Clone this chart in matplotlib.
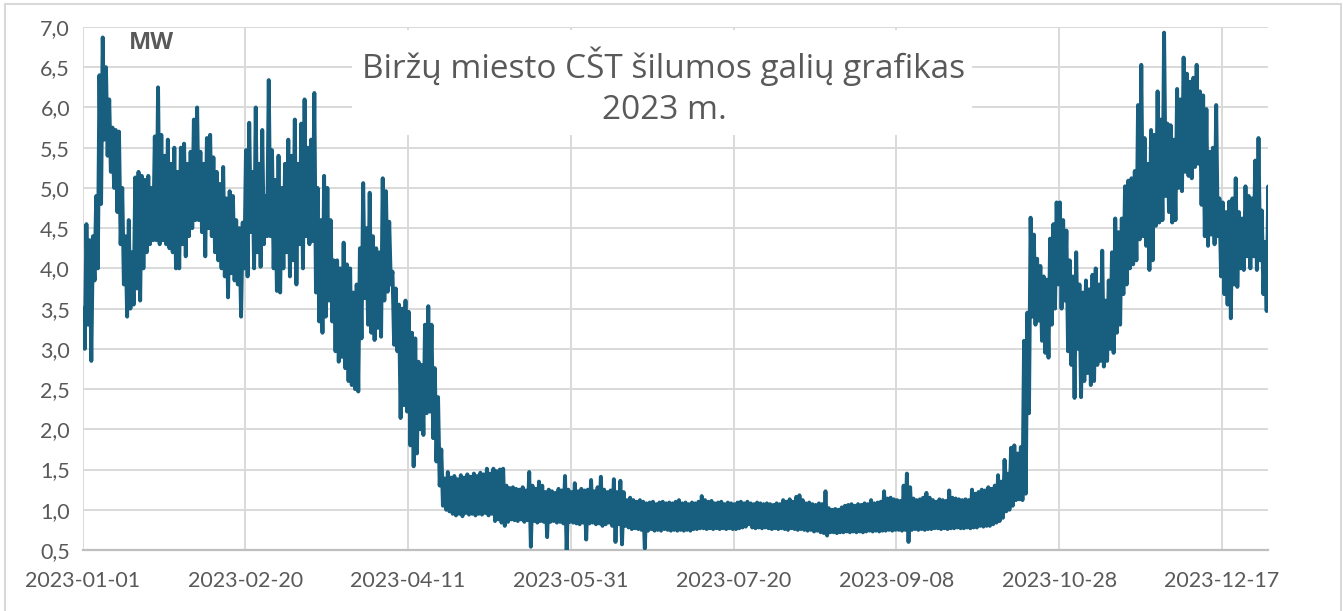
import matplotlib
matplotlib.use("Agg")
import matplotlib.pyplot as plt
import matplotlib.dates as mdates
from matplotlib.patches import Rectangle
import pandas as pd

# daily maximum / minimum heat power, MW (2023-01-01 .. 2023-12-31)
daily_high = [
    3.5, 4.55, 4.35, 4.4, 4.9, 6.4, 6.87, 6.5, 6.1, 5.75,
    5.72, 5.7, 5.0, 4.4, 4.6, 4.2, 5.13, 5.2, 5.15, 5.1,
    5.15, 5.0, 5.64, 6.25, 5.66, 5.4, 5.6, 5.3, 5.5, 5.2,
    5.5, 5.55, 5.3, 5.45, 5.85, 6.0, 5.45, 5.3, 5.62, 5.66,
    5.38, 5.2, 5.05, 5.26, 4.87, 4.96, 4.9, 4.6, 4.5, 4.57,
    5.47, 5.81, 5.2, 6.0, 5.3, 5.72, 4.9, 6.34, 5.47, 5.1,
    5.4, 5.0, 5.3, 5.6, 5.4, 5.85, 5.3, 5.8, 6.1, 5.5,
    5.6, 6.18, 5.0, 4.6, 5.15, 5.0, 4.6, 4.1, 4.1, 4.0,
    4.32, 4.05, 4.0, 3.7, 3.8, 4.25, 5.06, 4.5, 4.94, 4.4,
    4.25, 4.2, 5.12, 4.96, 4.58, 3.96, 3.75, 3.55, 3.5, 3.6,
    3.46, 3.2, 3.13, 2.84, 2.8, 3.3, 3.53, 3.3, 2.76, 2.4,
    1.75, 1.39, 1.47, 1.4, 1.42, 1.38, 1.43, 1.4, 1.44, 1.41,
    1.45, 1.42, 1.46, 1.44, 1.51, 1.45, 1.51, 1.48, 1.5, 1.51,
    1.3, 1.27, 1.28, 1.26, 1.25, 1.28, 1.24, 1.47, 1.3, 1.26,
    1.35, 1.3, 1.22, 1.25, 1.23, 1.21, 1.26, 1.24, 1.42, 1.25,
    1.22, 1.33, 1.23, 1.26, 1.24, 1.25, 1.37, 1.23, 1.28, 1.41,
    1.25, 1.22, 1.24, 1.38, 1.22, 1.36, 1.22, 1.12, 1.15, 1.12,
    1.1, 1.12, 1.1, 1.08, 1.09, 1.1, 1.07, 1.09, 1.1, 1.08,
    1.09, 1.08, 1.1, 1.12, 1.08, 1.09, 1.07, 1.09, 1.08, 1.1,
    1.17, 1.12, 1.1, 1.11, 1.08, 1.09, 1.1, 1.07, 1.09, 1.08,
    1.07, 1.09, 1.1, 1.08, 1.1, 1.08, 1.07, 1.09, 1.08, 1.07,
    1.08, 1.07, 1.06, 1.08, 1.07, 1.12, 1.1, 1.13, 1.1, 1.16,
    1.18, 1.12, 1.08, 1.09, 1.07, 1.06, 1.08, 1.07, 1.23, 1.02,
    1.0, 1.01, 1.0, 1.03, 1.05, 1.06, 1.07, 1.05, 1.07, 1.06,
    1.08, 1.07, 1.12, 1.08, 1.09, 1.1, 1.23, 1.14, 1.15, 1.13,
    1.12, 1.11, 1.3, 1.45, 1.28, 1.14, 1.12, 1.13, 1.15, 1.21,
    1.15, 1.12, 1.1, 1.13, 1.12, 1.11, 1.24, 1.15, 1.14, 1.13,
    1.12, 1.13, 1.12, 1.25, 1.2, 1.22, 1.25, 1.24, 1.28, 1.26,
    1.3, 1.43, 1.35, 1.62, 1.45, 1.77, 1.8, 1.7, 1.78, 3.1,
    3.45, 4.63, 4.42, 4.12, 4.03, 3.9, 3.86, 4.37, 4.55, 4.82,
    4.82, 4.6, 4.47, 4.1, 3.9, 4.2, 3.8, 3.7, 3.85, 3.74,
    3.92, 4.0, 3.8, 4.22, 3.6, 3.85, 4.2, 4.62, 4.45, 4.62,
    5.02, 5.09, 5.12, 5.21, 6.03, 6.53, 5.62, 5.3, 5.72, 5.66,
    6.2, 5.85, 6.93, 5.8, 5.78, 5.6, 6.23, 6.1, 6.62, 6.42,
    6.32, 6.37, 6.53, 6.2, 6.15, 5.98, 5.45, 5.5, 6.03, 4.87,
    4.82, 4.7, 4.83, 4.87, 5.12, 4.7, 4.62, 5.02, 4.9, 4.87,
    5.34, 5.62, 4.72, 4.33, 5.02,
]
daily_low = [
    3.0, 3.3, 2.85, 3.85, 4.0, 4.8, 5.6, 5.4, 5.2, 5.0,
    4.7, 4.3, 3.8, 3.4, 3.5, 3.55, 3.75, 3.6, 4.0, 4.2,
    4.3, 4.35, 4.35, 4.3, 4.35, 4.3, 4.25, 4.2, 4.0, 4.0,
    4.3, 4.15, 4.4, 4.5, 4.6, 4.6, 4.45, 4.15, 4.5, 4.4,
    4.2, 4.1, 4.0, 3.9, 3.64, 3.94, 3.85, 3.8, 3.4, 4.0,
    3.9, 4.45, 4.0, 4.2, 4.02, 4.3, 4.4, 4.4, 4.0, 3.72,
    3.7, 4.0, 4.2, 3.9, 4.1, 3.8, 4.3, 4.0, 4.4, 4.3,
    4.34, 3.7, 3.34, 3.2, 3.4, 3.6, 3.34, 2.97, 2.84, 2.9,
    2.76, 2.6, 2.55, 2.5, 2.47, 3.13, 3.63, 3.3, 3.2, 3.11,
    3.26, 3.15, 3.6, 3.71, 3.8, 3.05, 2.97, 2.14, 2.3, 2.22,
    1.8, 1.54, 1.7, 2.0, 1.93, 2.2, 2.22, 1.89, 1.6, 1.3,
    1.05, 1.0, 0.98, 0.95, 0.93, 0.95, 0.92, 0.96, 0.94, 0.95,
    0.93, 0.95, 0.94, 0.96, 0.93, 0.95, 0.86, 0.88, 0.84, 0.8,
    0.85, 0.88, 0.87, 0.86, 0.88, 0.85, 0.87, 0.54, 0.86, 0.84,
    0.86, 0.85, 0.66, 0.85, 0.86, 0.84, 0.85, 0.83, 0.48, 0.85,
    0.84, 0.83, 0.82, 0.84, 0.63, 0.83, 0.84, 0.82, 0.83, 0.8,
    0.82, 0.84, 0.8, 0.6, 0.82, 0.57, 0.8, 0.78, 0.76, 0.77,
    0.76, 0.75, 0.52, 0.74, 0.76, 0.74, 0.75, 0.74, 0.76, 0.75,
    0.74, 0.75, 0.74, 0.75, 0.74, 0.75, 0.74, 0.76, 0.76, 0.77,
    0.77, 0.76, 0.77, 0.76, 0.77, 0.76, 0.77, 0.76, 0.77, 0.76,
    0.76, 0.77, 0.78, 0.79, 0.82, 0.78, 0.77, 0.78, 0.77, 0.78,
    0.77, 0.76, 0.77, 0.76, 0.77, 0.76, 0.75, 0.77, 0.76, 0.75,
    0.76, 0.75, 0.74, 0.75, 0.73, 0.74, 0.72, 0.71, 0.68, 0.72,
    0.72, 0.71, 0.72, 0.72, 0.73, 0.72, 0.73, 0.72, 0.73, 0.72,
    0.73, 0.74, 0.73, 0.74, 0.73, 0.74, 0.74, 0.75, 0.74, 0.75,
    0.75, 0.74, 0.75, 0.6, 0.75, 0.76, 0.75, 0.76, 0.75, 0.76,
    0.76, 0.77, 0.77, 0.76, 0.77, 0.76, 0.77, 0.77, 0.78, 0.77,
    0.77, 0.78, 0.77, 0.78, 0.78, 0.8, 0.79, 0.8, 0.8, 0.82,
    0.84, 0.86, 0.9, 0.98, 1.0, 1.05, 1.12, 1.13, 1.12, 1.2,
    2.2, 3.4, 3.3, 3.35, 3.1, 2.95, 2.89, 3.3, 3.5, 3.8,
    3.5, 3.6, 2.97, 2.8, 2.39, 3.0, 2.4, 2.6, 2.7, 2.55,
    2.6, 2.8, 2.85, 2.78, 2.85, 3.0, 2.95, 3.2, 3.3, 3.68,
    3.8, 4.0, 4.05, 4.1, 4.36, 4.4, 4.28, 3.98, 4.1, 4.53,
    4.57, 4.6, 4.9, 4.7, 4.57, 4.6, 5.0, 4.96, 5.2, 5.15,
    5.12, 5.26, 5.3, 4.79, 4.4, 4.28, 4.42, 4.3, 4.4, 3.9,
    3.68, 3.55, 3.38, 3.8, 3.77, 4.0, 3.98, 4.15, 4.0, 4.15,
    3.98, 4.1, 3.68, 3.47, 4.0,
]
days = pd.date_range("2023-01-01", periods=len(daily_high), freq="D")
tick_dates = pd.date_range("2023-01-01", periods=8, freq="50D")
y_ticks = [0.5 + 0.5 * i for i in range(14)]

title_text = "Biržų miesto CŠT šilumos galių grafikas\n2023 m."
unit_text = "MW"

# each day is drawn as its peak followed by its trough, so the line zigzags
times = []
values = []
for d, hi, lo in zip(days, daily_high, daily_low):
    times.append(d + pd.Timedelta(hours=5))
    values.append(hi)
    times.append(d + pd.Timedelta(hours=17))
    values.append(lo)

W, H = 1343, 611
fig = plt.figure(figsize=(W / 100, H / 100), dpi=100)
fig.patch.set_facecolor("white")
ax = fig.add_axes([82.5 / W, 1 - 550 / H, (1268 - 82.5) / W, (550 - 27) / H])

grid_col = "#d9d9d9"
text_col = "#595959"
line_col = "#185e7f"

ax.plot(times, values, color=line_col, lw=2.8, solid_joinstyle="round", zorder=3)

ax.set_ylim(0.5, 7.0)
ax.set_xlim(pd.Timestamp("2023-01-01"), pd.Timestamp("2023-12-31 03:00"))
ax.set_yticks(y_ticks)
ax.set_yticklabels([f"{v:.1f}".replace(".", ",") for v in y_ticks])
ax.set_xticks(tick_dates)
ax.xaxis.set_major_formatter(mdates.DateFormatter("%Y-%m-%d"))

ax.set_axisbelow(True)
ax.grid(True, color=grid_col, lw=1.4)
for s in ["top", "right", "left"]:
    ax.spines[s].set_visible(False)
ax.spines["bottom"].set_color("#bfbfbf")
ax.spines["bottom"].set_linewidth(1.6)
ax.tick_params(length=0, labelsize=15.5, labelcolor=text_col)
ax.tick_params(axis="y", pad=9)
ax.tick_params(axis="x", pad=15)
for lab in ax.get_xticklabels() + ax.get_yticklabels():
    lab.set_family("Lato")

# white box behind the title hides the gridlines
ax.add_patch(Rectangle((352 / W, 1 - 134.5 / H), (972 - 352) / W, (134.5 - 30) / H,
                       transform=fig.transFigure, facecolor="white", edgecolor="none", zorder=1.5))
fig.text(664 / W, 1 - 87 / H, title_text, ha="center", va="center", fontsize=24,
         color=text_col, family="Open Sans", linespacing=1.3)
fig.text(151 / W, 1 - 43 / H, unit_text, ha="center", va="center", fontsize=17,
         color=text_col, family="Open Sans", fontweight="bold")

# light frame around the whole chart
fig.patches.append(Rectangle((5 / W, -0.01), (1341 - 5) / W, 1 - 4 / H + 0.01,
                             transform=fig.transFigure, facecolor="none",
                             edgecolor="#d9d9d9", lw=1.5))

fig.savefig("out.png", dpi=100)
